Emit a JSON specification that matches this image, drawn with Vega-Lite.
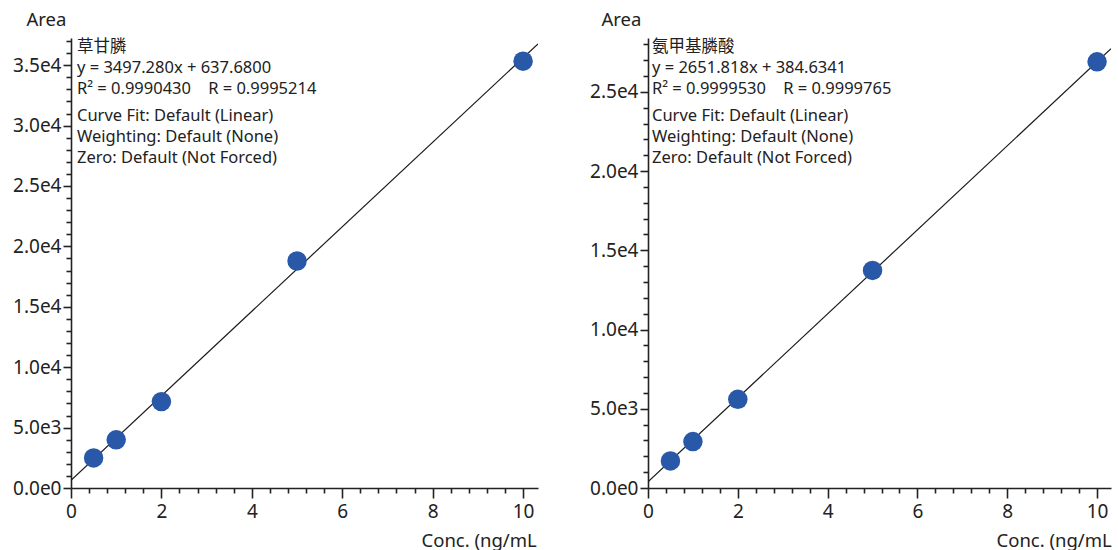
{
  "$schema": "https://vega.github.io/schema/vega-lite/v6.json",
  "padding": {"left": 12, "top": 10, "right": 0, "bottom": 0},
  "background": "white",
  "config": {
    "font": "Noto Sans, Noto Sans CJK SC",
    "view": {"stroke": null},
    "axis": {
      "domainColor": "#222222",
      "domainWidth": 1.6,
      "tickColor": "#222222",
      "tickWidth": 1.6,
      "labelColor": "#222222",
      "labelFontSize": 19,
      "labelOverlap": false,
      "labelBound": false,
      "labelFlush": false,
      "grid": false,
      "titleColor": "#222222",
      "titleFontSize": 18.5,
      "titleFontWeight": "normal"
    }
  },
  "datasets": {
    "points": [
      {"compound": "草甘膦", "conc": 0.5, "area": 2490},
      {"compound": "草甘膦", "conc": 1, "area": 3990},
      {"compound": "草甘膦", "conc": 2, "area": 7150},
      {"compound": "草甘膦", "conc": 5, "area": 18790},
      {"compound": "草甘膦", "conc": 10, "area": 35330},
      {"compound": "氨甲基膦酸", "conc": 0.5, "area": 1710},
      {"compound": "氨甲基膦酸", "conc": 1, "area": 2930},
      {"compound": "氨甲基膦酸", "conc": 2, "area": 5600},
      {"compound": "氨甲基膦酸", "conc": 5, "area": 13730},
      {"compound": "氨甲基膦酸", "conc": 10, "area": 26900}
    ],
    "fits": [
      {"compound": "草甘膦", "conc": 0, "area": 637.68},
      {"compound": "草甘膦", "conc": 10.33, "area": 36764},
      {"compound": "氨甲基膦酸", "conc": 0, "area": 384.63},
      {"compound": "氨甲基膦酸", "conc": 10.31, "area": 27724}
    ]
  },
  "hconcat": [
    {
      "width": 467,
      "height": 450,
      "layer": [
        {
          "data": {"name": "fits"},
          "transform": [{"filter": "datum.compound === '草甘膦'"}],
          "mark": {"type": "line", "color": "#1a1a1a", "strokeWidth": 1.2, "clip": true},
          "encoding": {
            "x": {"field": "conc", "type": "quantitative", "scale": {"domain": [0, 10.33], "nice": false, "zero": false},
              "axis": {"title": "Conc. (ng/mL", "titleAlign": "left", "titleBaseline": "middle", "titleAnchor": "start", "titleX": 350, "titleY": 52,
                "values": [0, 0.4, 0.8, 1.2, 1.6, 2, 2.4, 2.8, 3.2, 3.6, 4, 4.4, 4.8, 5.2, 5.6, 6, 6.4, 6.8, 7.2, 7.6, 8, 8.4, 8.8, 9.2, 9.6, 10],
                "labelExpr": "abs(datum.value/2 - round(datum.value/2)) < 0.000001 ? format(datum.value, 'd') : ''",
                "tickSize": {"condition": {"test": "abs(datum.value/2 - round(datum.value/2)) < 0.000001", "value": 10}, "value": 5},
                "labelPadding": 4}},
            "y": {"field": "area", "type": "quantitative", "scale": {"domain": [0, 37250], "nice": false, "zero": false},
              "axis": {"title": "Area", "titleAngle": 0, "titleAlign": "left", "titleBaseline": "middle", "titleX": -45, "titleY": -19,
                "values": [0, 1000, 2000, 3000, 4000, 5000, 6000, 7000, 8000, 9000, 10000, 11000, 12000, 13000, 14000, 15000, 16000, 17000, 18000, 19000, 20000, 21000, 22000, 23000, 24000, 25000, 26000, 27000, 28000, 29000, 30000, 31000, 32000, 33000, 34000, 35000, 36000, 37000],
                "labelExpr": "datum.value % 5000 === 0 ? replace(format(datum.value, '.1e'), '+', '') : ''",
                "tickSize": {"condition": {"test": "datum.value % 5000 === 0", "value": 8}, "value": 5},
                "labelPadding": 2}}
          }
        },
        {
          "data": {"name": "points"},
          "transform": [{"filter": "datum.compound === '草甘膦'"}],
          "mark": {"type": "circle", "size": 380, "color": "#2958A8", "opacity": 1},
          "encoding": {
            "x": {"field": "conc", "type": "quantitative", "scale": {"domain": [0, 10.33], "nice": false, "zero": false},
              "axis": {"title": "Conc. (ng/mL", "titleAlign": "left", "titleBaseline": "middle", "titleAnchor": "start", "titleX": 350, "titleY": 52,
                "values": [0, 0.4, 0.8, 1.2, 1.6, 2, 2.4, 2.8, 3.2, 3.6, 4, 4.4, 4.8, 5.2, 5.6, 6, 6.4, 6.8, 7.2, 7.6, 8, 8.4, 8.8, 9.2, 9.6, 10],
                "labelExpr": "abs(datum.value/2 - round(datum.value/2)) < 0.000001 ? format(datum.value, 'd') : ''",
                "tickSize": {"condition": {"test": "abs(datum.value/2 - round(datum.value/2)) < 0.000001", "value": 10}, "value": 5},
                "labelPadding": 4}},
            "y": {"field": "area", "type": "quantitative", "scale": {"domain": [0, 37250], "nice": false, "zero": false},
              "axis": {"title": "Area", "titleAngle": 0, "titleAlign": "left", "titleBaseline": "middle", "titleX": -45, "titleY": -19,
                "values": [0, 1000, 2000, 3000, 4000, 5000, 6000, 7000, 8000, 9000, 10000, 11000, 12000, 13000, 14000, 15000, 16000, 17000, 18000, 19000, 20000, 21000, 22000, 23000, 24000, 25000, 26000, 27000, 28000, 29000, 30000, 31000, 32000, 33000, 34000, 35000, 36000, 37000],
                "labelExpr": "datum.value % 5000 === 0 ? replace(format(datum.value, '.1e'), '+', '') : ''",
                "tickSize": {"condition": {"test": "datum.value % 5000 === 0", "value": 8}, "value": 5},
                "labelPadding": 2}}
          }
        },
        {
          "data": {"values": [{"label": "notes"}]},
          "mark": {"type": "text", "align": "left", "baseline": "top", "dx": 6, "dy": 1, "fontSize": 16.5, "lineHeight": 21, "color": "#222222",
                   "text": ["草甘膦", "y = 3497.280x + 637.6800", "R² = 0.9990430\u00a0\u00a0\u00a0\u00a0R = 0.9995214"]},
          "encoding": {
            "x": {"datum": 0, "type": "quantitative", "scale": {"domain": [0, 10.33], "nice": false, "zero": false},
              "axis": {"title": "Conc. (ng/mL", "titleAlign": "left", "titleBaseline": "middle", "titleAnchor": "start", "titleX": 350, "titleY": 52,
                "values": [0, 0.4, 0.8, 1.2, 1.6, 2, 2.4, 2.8, 3.2, 3.6, 4, 4.4, 4.8, 5.2, 5.6, 6, 6.4, 6.8, 7.2, 7.6, 8, 8.4, 8.8, 9.2, 9.6, 10],
                "labelExpr": "abs(datum.value/2 - round(datum.value/2)) < 0.000001 ? format(datum.value, 'd') : ''",
                "tickSize": {"condition": {"test": "abs(datum.value/2 - round(datum.value/2)) < 0.000001", "value": 10}, "value": 5},
                "labelPadding": 4}},
            "y": {"datum": 37250, "type": "quantitative", "scale": {"domain": [0, 37250], "nice": false, "zero": false},
              "axis": {"title": "Area", "titleAngle": 0, "titleAlign": "left", "titleBaseline": "middle", "titleX": -45, "titleY": -19,
                "values": [0, 1000, 2000, 3000, 4000, 5000, 6000, 7000, 8000, 9000, 10000, 11000, 12000, 13000, 14000, 15000, 16000, 17000, 18000, 19000, 20000, 21000, 22000, 23000, 24000, 25000, 26000, 27000, 28000, 29000, 30000, 31000, 32000, 33000, 34000, 35000, 36000, 37000],
                "labelExpr": "datum.value % 5000 === 0 ? replace(format(datum.value, '.1e'), '+', '') : ''",
                "tickSize": {"condition": {"test": "datum.value % 5000 === 0", "value": 8}, "value": 5},
                "labelPadding": 2}}
          }
        },
        {
          "data": {"values": [{"label": "notes"}]},
          "mark": {"type": "text", "align": "left", "baseline": "top", "dx": 6, "dy": 70, "fontSize": 16.5, "lineHeight": 21, "color": "#222222",
                   "text": ["Curve Fit: Default (Linear)", "Weighting: Default (None)", "Zero: Default (Not Forced)"]},
          "encoding": {
            "x": {"datum": 0, "type": "quantitative", "scale": {"domain": [0, 10.33], "nice": false, "zero": false},
              "axis": {"title": "Conc. (ng/mL", "titleAlign": "left", "titleBaseline": "middle", "titleAnchor": "start", "titleX": 350, "titleY": 52,
                "values": [0, 0.4, 0.8, 1.2, 1.6, 2, 2.4, 2.8, 3.2, 3.6, 4, 4.4, 4.8, 5.2, 5.6, 6, 6.4, 6.8, 7.2, 7.6, 8, 8.4, 8.8, 9.2, 9.6, 10],
                "labelExpr": "abs(datum.value/2 - round(datum.value/2)) < 0.000001 ? format(datum.value, 'd') : ''",
                "tickSize": {"condition": {"test": "abs(datum.value/2 - round(datum.value/2)) < 0.000001", "value": 10}, "value": 5},
                "labelPadding": 4}},
            "y": {"datum": 37250, "type": "quantitative", "scale": {"domain": [0, 37250], "nice": false, "zero": false},
              "axis": {"title": "Area", "titleAngle": 0, "titleAlign": "left", "titleBaseline": "middle", "titleX": -45, "titleY": -19,
                "values": [0, 1000, 2000, 3000, 4000, 5000, 6000, 7000, 8000, 9000, 10000, 11000, 12000, 13000, 14000, 15000, 16000, 17000, 18000, 19000, 20000, 21000, 22000, 23000, 24000, 25000, 26000, 27000, 28000, 29000, 30000, 31000, 32000, 33000, 34000, 35000, 36000, 37000],
                "labelExpr": "datum.value % 5000 === 0 ? replace(format(datum.value, '.1e'), '+', '') : ''",
                "tickSize": {"condition": {"test": "datum.value % 5000 === 0", "value": 8}, "value": 5},
                "labelPadding": 2}}
          }
        }
      ]
    },
    {
      "width": 463,
      "height": 450,
      "layer": [
        {
          "data": {"name": "fits"},
          "transform": [{"filter": "datum.compound === '氨甲基膦酸'"}],
          "mark": {"type": "line", "color": "#1a1a1a", "strokeWidth": 1.2, "clip": true},
          "encoding": {
            "x": {"field": "conc", "type": "quantitative", "scale": {"domain": [0, 10.31], "nice": false, "zero": false},
              "axis": {"title": "Conc. (ng/mL", "titleAlign": "left", "titleBaseline": "middle", "titleAnchor": "start", "titleX": 348, "titleY": 52,
                "values": [0, 0.4, 0.8, 1.2, 1.6, 2, 2.4, 2.8, 3.2, 3.6, 4, 4.4, 4.8, 5.2, 5.6, 6, 6.4, 6.8, 7.2, 7.6, 8, 8.4, 8.8, 9.2, 9.6, 10],
                "labelExpr": "abs(datum.value/2 - round(datum.value/2)) < 0.000001 ? format(datum.value, 'd') : ''",
                "tickSize": {"condition": {"test": "abs(datum.value/2 - round(datum.value/2)) < 0.000001", "value": 10}, "value": 5},
                "labelPadding": 4}},
            "y": {"field": "area", "type": "quantitative", "scale": {"domain": [0, 28400], "nice": false, "zero": false},
              "axis": {"title": "Area", "titleAngle": 0, "titleAlign": "left", "titleBaseline": "middle", "titleX": -47, "titleY": -19,
                "values": [0, 1000, 2000, 3000, 4000, 5000, 6000, 7000, 8000, 9000, 10000, 11000, 12000, 13000, 14000, 15000, 16000, 17000, 18000, 19000, 20000, 21000, 22000, 23000, 24000, 25000, 26000, 27000, 28000],
                "labelExpr": "datum.value % 5000 === 0 ? replace(format(datum.value, '.1e'), '+', '') : ''",
                "tickSize": {"condition": {"test": "datum.value % 5000 === 0", "value": 8}, "value": 5},
                "labelPadding": 2}}
          }
        },
        {
          "data": {"name": "points"},
          "transform": [{"filter": "datum.compound === '氨甲基膦酸'"}],
          "mark": {"type": "circle", "size": 380, "color": "#2958A8", "opacity": 1},
          "encoding": {
            "x": {"field": "conc", "type": "quantitative", "scale": {"domain": [0, 10.31], "nice": false, "zero": false},
              "axis": {"title": "Conc. (ng/mL", "titleAlign": "left", "titleBaseline": "middle", "titleAnchor": "start", "titleX": 348, "titleY": 52,
                "values": [0, 0.4, 0.8, 1.2, 1.6, 2, 2.4, 2.8, 3.2, 3.6, 4, 4.4, 4.8, 5.2, 5.6, 6, 6.4, 6.8, 7.2, 7.6, 8, 8.4, 8.8, 9.2, 9.6, 10],
                "labelExpr": "abs(datum.value/2 - round(datum.value/2)) < 0.000001 ? format(datum.value, 'd') : ''",
                "tickSize": {"condition": {"test": "abs(datum.value/2 - round(datum.value/2)) < 0.000001", "value": 10}, "value": 5},
                "labelPadding": 4}},
            "y": {"field": "area", "type": "quantitative", "scale": {"domain": [0, 28400], "nice": false, "zero": false},
              "axis": {"title": "Area", "titleAngle": 0, "titleAlign": "left", "titleBaseline": "middle", "titleX": -47, "titleY": -19,
                "values": [0, 1000, 2000, 3000, 4000, 5000, 6000, 7000, 8000, 9000, 10000, 11000, 12000, 13000, 14000, 15000, 16000, 17000, 18000, 19000, 20000, 21000, 22000, 23000, 24000, 25000, 26000, 27000, 28000],
                "labelExpr": "datum.value % 5000 === 0 ? replace(format(datum.value, '.1e'), '+', '') : ''",
                "tickSize": {"condition": {"test": "datum.value % 5000 === 0", "value": 8}, "value": 5},
                "labelPadding": 2}}
          }
        },
        {
          "data": {"values": [{"label": "notes"}]},
          "mark": {"type": "text", "align": "left", "baseline": "top", "dx": 4, "dy": 1, "fontSize": 16.5, "lineHeight": 21, "color": "#222222",
                   "text": ["氨甲基膦酸", "y = 2651.818x + 384.6341", "R² = 0.9999530\u00a0\u00a0\u00a0\u00a0R = 0.9999765"]},
          "encoding": {
            "x": {"datum": 0, "type": "quantitative", "scale": {"domain": [0, 10.31], "nice": false, "zero": false},
              "axis": {"title": "Conc. (ng/mL", "titleAlign": "left", "titleBaseline": "middle", "titleAnchor": "start", "titleX": 348, "titleY": 52,
                "values": [0, 0.4, 0.8, 1.2, 1.6, 2, 2.4, 2.8, 3.2, 3.6, 4, 4.4, 4.8, 5.2, 5.6, 6, 6.4, 6.8, 7.2, 7.6, 8, 8.4, 8.8, 9.2, 9.6, 10],
                "labelExpr": "abs(datum.value/2 - round(datum.value/2)) < 0.000001 ? format(datum.value, 'd') : ''",
                "tickSize": {"condition": {"test": "abs(datum.value/2 - round(datum.value/2)) < 0.000001", "value": 10}, "value": 5},
                "labelPadding": 4}},
            "y": {"datum": 28400, "type": "quantitative", "scale": {"domain": [0, 28400], "nice": false, "zero": false},
              "axis": {"title": "Area", "titleAngle": 0, "titleAlign": "left", "titleBaseline": "middle", "titleX": -47, "titleY": -19,
                "values": [0, 1000, 2000, 3000, 4000, 5000, 6000, 7000, 8000, 9000, 10000, 11000, 12000, 13000, 14000, 15000, 16000, 17000, 18000, 19000, 20000, 21000, 22000, 23000, 24000, 25000, 26000, 27000, 28000],
                "labelExpr": "datum.value % 5000 === 0 ? replace(format(datum.value, '.1e'), '+', '') : ''",
                "tickSize": {"condition": {"test": "datum.value % 5000 === 0", "value": 8}, "value": 5},
                "labelPadding": 2}}
          }
        },
        {
          "data": {"values": [{"label": "notes"}]},
          "mark": {"type": "text", "align": "left", "baseline": "top", "dx": 4, "dy": 70, "fontSize": 16.5, "lineHeight": 21, "color": "#222222",
                   "text": ["Curve Fit: Default (Linear)", "Weighting: Default (None)", "Zero: Default (Not Forced)"]},
          "encoding": {
            "x": {"datum": 0, "type": "quantitative", "scale": {"domain": [0, 10.31], "nice": false, "zero": false},
              "axis": {"title": "Conc. (ng/mL", "titleAlign": "left", "titleBaseline": "middle", "titleAnchor": "start", "titleX": 348, "titleY": 52,
                "values": [0, 0.4, 0.8, 1.2, 1.6, 2, 2.4, 2.8, 3.2, 3.6, 4, 4.4, 4.8, 5.2, 5.6, 6, 6.4, 6.8, 7.2, 7.6, 8, 8.4, 8.8, 9.2, 9.6, 10],
                "labelExpr": "abs(datum.value/2 - round(datum.value/2)) < 0.000001 ? format(datum.value, 'd') : ''",
                "tickSize": {"condition": {"test": "abs(datum.value/2 - round(datum.value/2)) < 0.000001", "value": 10}, "value": 5},
                "labelPadding": 4}},
            "y": {"datum": 28400, "type": "quantitative", "scale": {"domain": [0, 28400], "nice": false, "zero": false},
              "axis": {"title": "Area", "titleAngle": 0, "titleAlign": "left", "titleBaseline": "middle", "titleX": -47, "titleY": -19,
                "values": [0, 1000, 2000, 3000, 4000, 5000, 6000, 7000, 8000, 9000, 10000, 11000, 12000, 13000, 14000, 15000, 16000, 17000, 18000, 19000, 20000, 21000, 22000, 23000, 24000, 25000, 26000, 27000, 28000],
                "labelExpr": "datum.value % 5000 === 0 ? replace(format(datum.value, '.1e'), '+', '') : ''",
                "tickSize": {"condition": {"test": "datum.value % 5000 === 0", "value": 8}, "value": 5},
                "labelPadding": 2}}
          }
        }
      ]
    }
  ],
  "spacing": 110,
  "bounds": "flush"
}
